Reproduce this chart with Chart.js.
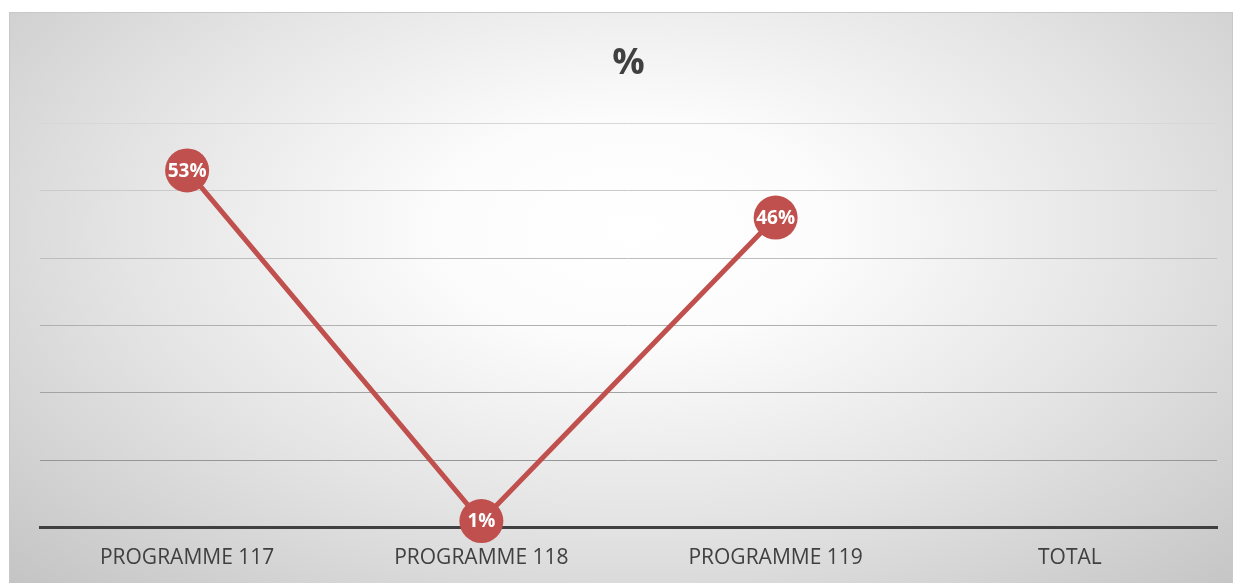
<!DOCTYPE html>
<html>
<head>
<meta charset="utf-8">
<script src="https://cdn.jsdelivr.net/npm/chart.js@4"></script>
<style>
    html, body { margin: 0; padding: 0; background: #fff; }
    #frame {
        position: absolute; left: 9px; top: 12px; width: 1222px; height: 570px;
        border: 1px solid #c8c8c8;
        background: radial-gradient(ellipse 72% 88% at 51% 38%, #ffffff 0%, #fcfcfc 22%, #e4e4e4 58%, #c4c4c4 100%);
    }
    #wrap { position: absolute; left: 0; top: 0; width: 1234px; height: 583px; }
</style>
</head>
<body>
<div id="frame"></div>
<div id="wrap"><canvas id="chart" width="1234" height="583"></canvas></div>
<script>
var categories = ['PROGRAMME 117', 'PROGRAMME 118', 'PROGRAMME 119', 'TOTAL'];
var shares = [0.53, 0.01, 0.46, null];
var gridTicks = [0, 0.1, 0.2, 0.3, 0.4, 0.5, 0.6];

var red = '#c0504d';
var ink = '#404040';

// draws the % text inside each marker
var pointLabels = {
    id: 'pointLabels',
    afterDatasetsDraw: function (chart) {
        var ctx = chart.ctx;
        var meta = chart.getDatasetMeta(0);
        ctx.save();
        ctx.fillStyle = '#ffffff';
        ctx.font = 'bold 19px "Open Sans", sans-serif';
        ctx.textAlign = 'center';
        ctx.textBaseline = 'middle';
        for (var i = 0; i < meta.data.length; i++) {
            if (shares[i] === null) continue;
            var pt = meta.data[i];
            ctx.fillText(Math.round(shares[i] * 100) + '%', pt.x, pt.y + 1);
        }
        ctx.restore();
    }
};

function gridColour(ctx) {
    var v = ctx.tick ? ctx.tick.value : 0;
    if (v <= 0.001) return 'rgba(0,0,0,0)';
    var g = Math.round(150 + (v - 0.1) / 0.5 * 65);
    return 'rgb(' + g + ',' + g + ',' + g + ')';
}

new Chart(document.getElementById('chart'), {
    type: 'line',
    data: {
        labels: categories,
        datasets: [{
            data: shares,
            borderColor: red,
            backgroundColor: red,
            borderWidth: 5,
            pointRadius: 22,
            pointHoverRadius: 22,
            pointBorderWidth: 0,
            pointBackgroundColor: red,
            tension: 0,
            clip: false
        }]
    },
    options: {
        responsive: false,
        animation: false,
        layout: { autoPadding: false, padding: { left: 40, right: 17, top: 0, bottom: -6 } },
        plugins: {
            legend: { display: false },
            tooltip: { enabled: false },
            title: {
                display: true,
                text: '%',
                color: ink,
                font: { family: '"Open Sans", sans-serif', size: 36, weight: 'bold', lineHeight: 1.2 },
                padding: { top: 42, bottom: 38 }
            }
        },
        scales: {
            x: {
                offset: true,
                grid: { display: true, color: 'rgba(0,0,0,0)', drawTicks: false },
                border: { display: true, color: ink, width: 3 },
                ticks: {
                    color: ink,
                    padding: 18,
                    font: { family: '"Open Sans", sans-serif', size: 21 }
                }
            },
            y: {
                min: gridTicks[0],
                max: gridTicks[gridTicks.length - 1],
                afterBuildTicks: function (axis) {
                    axis.ticks = gridTicks.map(function (v) { return { value: v }; });
                },
                grid: { color: gridColour, lineWidth: 1, drawTicks: false },
                border: { display: false },
                ticks: { display: false }
            }
        }
    },
    plugins: [pointLabels]
});
</script>
</body>
</html>
